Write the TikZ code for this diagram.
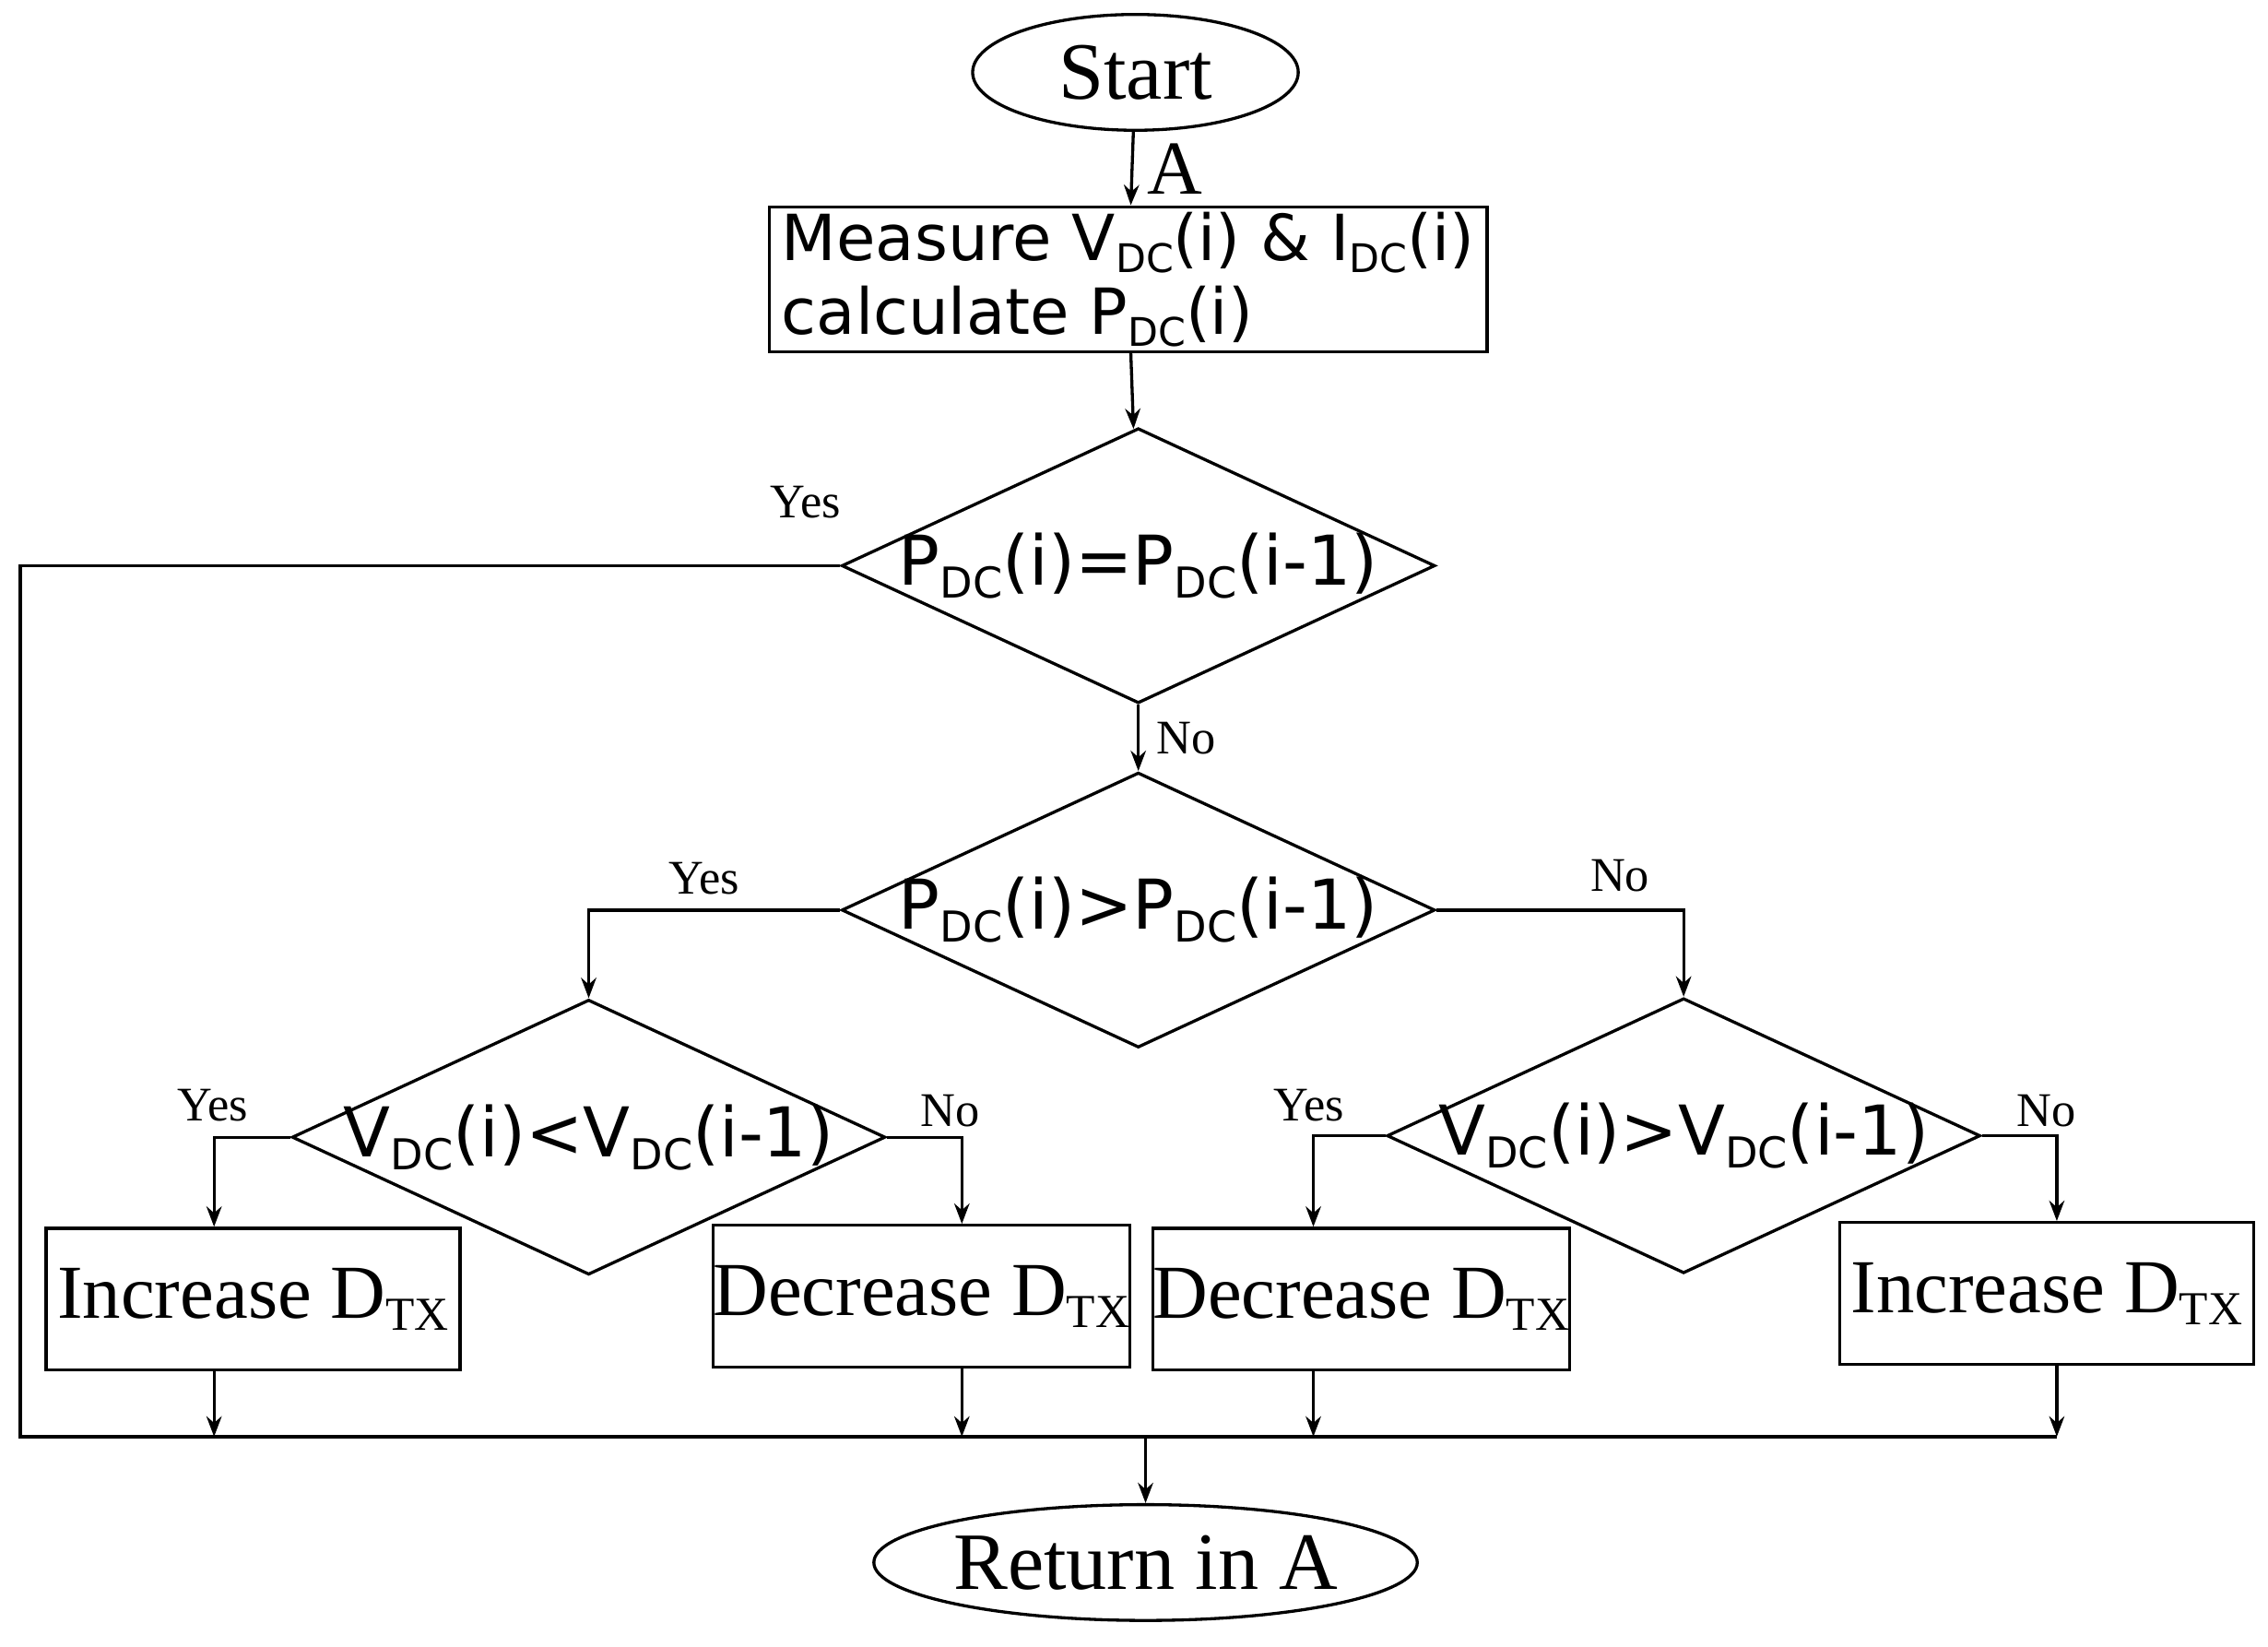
\documentclass[tikz,border=0pt]{standalone}
\usepackage{fontspec}
\setmainfont{Liberation Serif}
\newfontfamily\sansf{DejaVu Sans}
\usetikzlibrary{shapes.geometric,arrows.meta}
\newcommand{\lo}[1]{\raisebox{-0.35ex}{\fontsize{0.62em}{0.7em}\selectfont #1}}
\begin{document}
\begin{tikzpicture}[x=0.01cm,y=-0.01cm,
  every path/.style={line width=0.6pt},
  arr/.style={-{Stealth[length=4pt,width=3pt]}},
  term/.style={ellipse, draw, fill=white, inner sep=0pt, font=\fontsize{16}{18}\selectfont},
  dec/.style={diamond, draw, inner sep=0pt, minimum width=4.1cm, minimum height=1.9cm},
  dectext/.style={font=\sansf\fontsize{13.5}{15}\selectfont},
  act/.style={rectangle, draw, inner sep=0pt, minimum width=2.86cm, minimum height=0.98cm, font=\fontsize{15}{17}\selectfont},
  lab/.style={font=\fontsize{9.5}{11}\selectfont}]
\useasboundingbox (0,0) rectangle (1568,1138);

% terminals
\node[term, minimum width=2.25cm, minimum height=0.8cm] (start) at (785,50) {Start};
\node[term, minimum width=2.9cm, minimum height=0.8cm] (ret) at (792,1080) {Return in A};

% measure
\node[rectangle, draw, minimum width=4.96cm, minimum height=1cm, align=left, inner sep=1pt,
  font=\sansf\fontsize{12.5}{14.5}\selectfont] (meas) at (780,193)
  {Measure V\lo{DC}(i) \& I\lo{DC}(i)\\calculate P\lo{DC}(i)};
\node[font=\fontsize{15}{17}\selectfont] (a-label) at (812,117) {A};

% decisions
\node[dec] (eq) at (787,391) {};
\node[dec] (gt) at (787,629) {};
\node[dec] (vl) at (407,786) {};
\node[dec] (vg) at (1164,785) {};
\node[dectext] (eq-text) at (eq) {P\lo{DC}(i)=P\lo{DC}(i-1)};
\node[dectext] (gt-text) at (gt) {P\lo{DC}(i)>P\lo{DC}(i-1)};
\node[dectext] (vl-text) at (vl) {V\lo{DC}(i)<V\lo{DC}(i-1)};
\node[dectext] (vg-text) at (vg) {V\lo{DC}(i)>V\lo{DC}(i-1)};

% actions
\node[act] (inc1) at (175,898) {Increase D\lo{TX}};
\node[act] (dec1) at (637,896) {Decrease D\lo{TX}};
\node[act] (dec2) at (941,898) {Decrease D\lo{TX}};
\node[act] (inc2) at (1415,894) {Increase D\lo{TX}};

% bus coordinates
\coordinate (bl) at (14,993);
\coordinate (br) at (1422,993);
\coordinate (bm) at (792,993);

% connectors
\draw[arr] (start) -- (meas);
\draw[arr] (meas) -- (eq);
\draw[arr] (eq) -- node[lab, right, pos=0.5] {No} (gt);
\draw (eq.west) -- (14,391) -- (bl) -- (br);
\draw[arr] (gt.west) -| (vl.north);
\draw[arr] (gt.east) -| (vg.north);
\draw[arr] (vl.west) -| (inc1.north -| 148,0);
\draw[arr] (vl.east) -| (dec1.north -| 665,0);
\draw[arr] (vg.west) -| (dec2.north -| 908,0);
\draw[arr] (vg.east) -| (inc2.north -| 1422,0);
\draw[arr] (inc1.south -| 148,0) -- (bl -| 148,0);
\draw[arr] (dec1.south -| 665,0) -- (bl -| 665,0);
\draw[arr] (dec2.south -| 908,0) -- (bl -| 908,0);
\draw[arr] (inc2.south -| 1422,0) -- (br);
\draw[arr] (bm) -- (ret);

% branch labels
\node[lab] (y1) at (557,347) {Yes};
\node[lab] (y2) at (487,607) {Yes};
\node[lab] (n2) at (1120,605) {No};
\node[lab] (y3) at (147,764) {Yes};
\node[lab] (n3) at (657,768) {No};
\node[lab] (y4) at (905,764) {Yes};
\node[lab] (n4) at (1415,768) {No};
\end{tikzpicture}
\end{document}
